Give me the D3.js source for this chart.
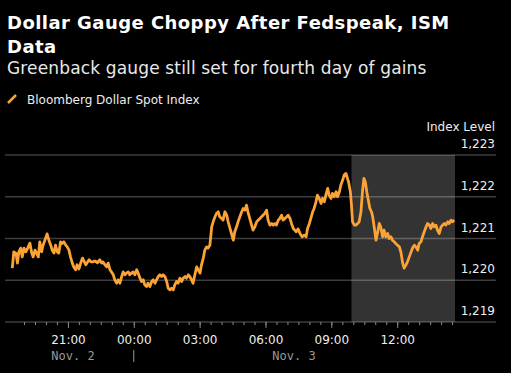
<!DOCTYPE html>
<html>
<head>
<meta charset="utf-8">
<script src="https://cdn.jsdelivr.net/npm/d3@7"></script>
<style>
  body { margin: 0; background: #000; }
  svg { display: block; font-family: "DejaVu Sans", sans-serif; }
</style>
</head>
<body>
<svg id="chart" width="511" height="373"></svg>
<script>
// Bloomberg Dollar Spot Index, Nov 2 evening to Nov 3 afternoon
var times = [
  "18:28","18:32","18:38","18:42","18:46","18:51","18:55","19:00","19:05","19:10",
  "19:16","19:21","19:25","19:30","19:34","19:39","19:43","19:48","19:52","19:57",
  "20:03","20:08","20:13","20:17","20:22","20:26","20:31","20:35","20:40","20:44",
  "20:49","20:54","20:58","21:03","21:07","21:12","21:16","21:21","21:25","21:30",
  "21:36","21:40","21:45","21:49","21:54","21:58","22:03","22:08","22:14","22:21",
  "22:27","22:32","22:36","22:41","22:46","22:50","22:55","22:59","23:04","23:08",
  "23:13","23:17","23:22","23:27","23:31","23:36","23:40","23:45","23:49","23:54",
  "23:58","00:03","00:08","00:12","00:17","00:21","00:26","00:30","00:35","00:39",
  "00:44","00:49","00:53","00:58","01:02","01:07","01:11","01:16","01:20","01:25",
  "01:30","01:34","01:39","01:43","01:48","01:52","01:57","02:01","02:06","02:11",
  "02:15","02:20","02:24","02:29","02:33","02:38","02:42","02:47","02:52","02:56",
  "03:01","03:05","03:10","03:14","03:19","03:23","03:28","03:33","03:37","03:42",
  "03:46","03:51","03:55","04:00","04:04","04:09","04:14","04:18","04:23","04:27",
  "04:32","04:36","04:41","04:45","04:50","04:55","04:59","05:04","05:08","05:13",
  "05:17","05:22","05:26","05:31","05:36","05:40","05:45","05:49","05:54","05:58",
  "06:03","06:07","06:12","06:17","06:21","06:26","06:30","06:35","06:39","06:44",
  "06:48","06:53","06:58","07:02","07:07","07:11","07:16","07:20","07:24","07:29",
  "07:35","07:40","07:46","07:51","07:55","08:00","08:04","08:09","08:13","08:18",
  "08:22","08:27","08:32","08:36","08:41","08:45","08:50","08:54","08:59","09:03",
  "09:08","09:13","09:17","09:22","09:26","09:31","09:35","09:40","09:44","09:47",
  "09:52","09:55","09:58","10:03","10:07","10:12","10:16","10:21","10:25","10:29",
  "10:33","10:37","10:41","10:45","10:50","10:53","10:57","11:02","11:06","11:11",
  "11:15","11:20","11:24","11:29","11:34","11:38","11:43","11:47","11:52","11:56",
  "12:01","12:06","12:10","12:15","12:19","12:24","12:28","12:33","12:38","12:42",
  "12:47","12:51","12:56","13:00","13:05","13:09","13:14","13:19","13:23","13:28",
  "13:32","13:37","13:41","13:46","13:50","13:55","14:00","14:04","14:09","14:13",
  "14:18","14:22","14:27","14:31","14:36"
];
var values = [
  1220.29,1220.68,1220.65,1220.41,1220.68,1220.77,1220.56,1220.77,1220.68,1220.77,
  1220.89,1220.65,1220.56,1220.72,1220.65,1220.56,1220.92,1220.68,1220.84,1220.96,
  1221.11,1220.96,1220.84,1220.72,1220.65,1220.84,1220.68,1220.65,1220.92,1220.88,
  1220.92,1220.84,1220.80,1220.72,1220.56,1220.41,1220.32,1220.25,1220.37,1220.27,
  1220.44,1220.53,1220.44,1220.37,1220.44,1220.49,1220.44,1220.44,1220.46,1220.42,
  1220.49,1220.41,1220.44,1220.37,1220.32,1220.41,1220.25,1220.20,1220.13,1220.01,
  1219.93,1220.01,1219.93,1220.09,1220.20,1220.13,1220.17,1220.20,1220.13,1220.17,
  1220.20,1220.13,1220.25,1220.17,1220.05,1219.97,1220.01,1219.89,1219.85,1219.93,
  1219.85,1219.97,1220.01,1219.93,1220.01,1220.09,1220.13,1220.09,1220.13,1220.09,
  1219.97,1219.81,1219.77,1219.81,1219.77,1219.89,1219.97,1219.93,1220.05,1219.97,
  1220.05,1220.09,1220.05,1220.13,1220.09,1220.01,1219.93,1220.13,1220.32,1220.25,
  1220.17,1220.37,1220.53,1220.72,1220.80,1220.77,1220.84,1221.28,1221.40,1221.52,
  1221.60,1221.64,1221.52,1221.48,1221.44,1221.64,1221.56,1221.40,1221.24,1221.12,
  1220.96,1221.16,1221.28,1221.40,1221.52,1221.64,1221.72,1221.68,1221.80,1221.60,
  1221.48,1221.32,1221.20,1221.28,1221.40,1221.44,1221.48,1221.52,1221.56,1221.60,
  1221.68,1221.44,1221.32,1221.36,1221.32,1221.36,1221.32,1221.44,1221.48,1221.56,
  1221.44,1221.48,1221.52,1221.56,1221.48,1221.36,1221.24,1221.20,1221.16,1221.23,
  1221.11,1221.04,1221.08,1221.04,1221.24,1221.36,1221.48,1221.64,1221.72,1221.88,
  1222.04,1221.96,1221.84,1221.96,1221.88,1222.04,1222.20,1222.04,1221.96,1222.08,
  1222.00,1222.12,1222.00,1222.12,1222.28,1222.40,1222.52,1222.56,1222.44,1222.36,
  1222.12,1221.80,1221.40,1221.32,1221.32,1221.36,1221.40,1221.64,1222.12,1222.44,
  1222.35,1222.11,1221.92,1221.73,1221.63,1221.52,1221.28,1220.96,1221.12,1221.36,
  1221.28,1221.04,1221.20,1221.04,1221.12,1221.00,1221.04,1220.96,1220.92,1220.88,
  1220.84,1220.80,1220.68,1220.41,1220.29,1220.37,1220.44,1220.56,1220.68,1220.77,
  1220.84,1220.80,1220.72,1220.88,1220.92,1221.04,1221.16,1221.28,1221.36,1221.32,
  1221.24,1221.36,1221.28,1221.32,1221.20,1221.12,1221.28,1221.32,1221.36,1221.32,
  1221.40,1221.36,1221.44,1221.40,1221.44
];
var yTicks = [1219, 1220, 1221, 1222, 1223];
var dayLabels = ["Nov. 2", "Nov. 3"];
var shadeStart = "09:55";
var timeStart = "18:08", timeEnd = "14:38", firstTick = "19:00";

var title = ["Dollar Gauge Choppy After Fedspeak, ISM", "Data"];
var subtitle = "Greenback gauge still set for fourth day of gains";
var legendLabel = "Bloomberg Dollar Spot Index";
var unitLabel = "Index Level";

var orange = "#fba334";

// times at or after 18:00 belong to Nov 2, the rest to Nov 3
var parse = d3.timeParse("%Y-%m-%d %H:%M");
function toDate(s) {
    var day = +s.slice(0, 2) >= 18 ? "2022-11-02 " : "2022-11-03 ";
    return parse(day + s);
}

var data = times.map(function(t, i) { return { t: toDate(t), v: values[i] }; });

var svg = d3.select("#chart");

var x = d3.scaleTime()
    .domain([toDate(timeStart), toDate(timeEnd)])
    .range([5, 455]);
var y = d3.scaleLinear()
    .domain([1219, 1223])
    .range([322, 155]);

// headers
svg.append("g").selectAll("text")
    .data(title)
    .enter().append("text")
    .attr("x", 7)
    .attr("y", function(d, i) { return 29 + i * 24; })
    .attr("fill", "#fff")
    .attr("font-weight", "bold")
    .attr("font-size", "18px")
    .attr("letter-spacing", "0.45px")
    .text(function(d) { return d; });

svg.append("text")
    .attr("x", 7).attr("y", 74)
    .attr("fill", "#e8e8e8")
    .attr("font-size", "17px")
    .attr("letter-spacing", "0.15px")
    .text(subtitle);

// legend
svg.append("line")
    .attr("x1", 8).attr("y1", 103).attr("x2", 16).attr("y2", 95)
    .attr("stroke", orange).attr("stroke-width", 2.5);
svg.append("text")
    .attr("x", 27).attr("y", 104)
    .attr("fill", "#eee")
    .attr("font-size", "12px")
    .text(legendLabel);

// shaded session
svg.append("rect")
    .attr("x", x(toDate(shadeStart)))
    .attr("y", y(1223))
    .attr("width", x(toDate(timeEnd)) - x(toDate(shadeStart)))
    .attr("height", y(1219) - y(1223))
    .attr("fill", "#333");

// grid lines
svg.append("g").selectAll("line")
    .data(yTicks)
    .enter().append("line")
    .attr("x1", 5).attr("x2", 496)
    .attr("y1", function(d) { return y(d); })
    .attr("y2", function(d) { return y(d); })
    .attr("stroke", "rgba(255,255,255,0.24)")
    .attr("stroke-width", 1.5);

// y labels sit above their grid line
svg.append("g").selectAll("text")
    .data(yTicks)
    .enter().append("text")
    .attr("x", 495)
    .attr("y", function(d) { return y(d) - 7; })
    .attr("text-anchor", "end")
    .attr("fill", "#eee")
    .attr("font-size", "12px")
    .text(d3.format(",.0f"));

svg.append("text")
    .attr("x", 495).attr("y", 131)
    .attr("text-anchor", "end")
    .attr("fill", "#eee")
    .attr("font-size", "12px")
    .text(unitLabel);

// x axis: minor ticks every 30 min, labelled ticks every 3 h
var minorTicks = d3.timeMinute.every(30).range(toDate(firstTick), toDate(timeEnd));
var minorAxis = d3.axisBottom(x).tickValues(minorTicks).tickSize(3).tickFormat("");
var majorAxis = d3.axisBottom(x)
    .ticks(d3.timeHour.every(3))
    .tickSize(6)
    .tickPadding(7)
    .tickFormat(d3.timeFormat("%H:%M"));

var gMinor = svg.append("g").attr("transform", "translate(0,322)").call(minorAxis);
var gMajor = svg.append("g").attr("transform", "translate(0,322)").call(majorAxis);
[gMinor, gMajor].forEach(function(g) {
    g.select(".domain").remove();
    g.selectAll("line").attr("stroke", "#888");
});
gMajor.selectAll("text")
    .attr("fill", "#eee")
    .attr("font-size", "12px")
    .attr("font-family", "DejaVu Sans, sans-serif");

// day labels centred on the part of each day that has data
var dayBreak = toDate("00:00");
var days = [
    { label: dayLabels[0], a: data[0].t, b: dayBreak },
    { label: dayLabels[1], a: dayBreak, b: data[data.length - 1].t }
];
svg.append("g").selectAll("text")
    .data(days)
    .enter().append("text")
    .attr("x", function(d) { return (x(d.a) + x(d.b)) / 2; })
    .attr("y", 360)
    .attr("text-anchor", "middle")
    .attr("fill", "#999")
    .attr("font-size", "12px")
    .attr("font-family", "DejaVu Sans Mono, monospace")
    .text(function(d) { return d.label; });

svg.append("line")
    .attr("x1", x(dayBreak)).attr("x2", x(dayBreak))
    .attr("y1", 350).attr("y2", 362)
    .attr("stroke", "#999");

// the index line
var line = d3.line()
    .x(function(d) { return x(d.t); })
    .y(function(d) { return y(d.v); });

svg.append("path")
    .datum(data)
    .attr("fill", "none")
    .attr("stroke", orange)
    .attr("stroke-width", 2.8)
    .attr("stroke-linejoin", "round")
    .attr("d", line);
</script>
</body>
</html>
